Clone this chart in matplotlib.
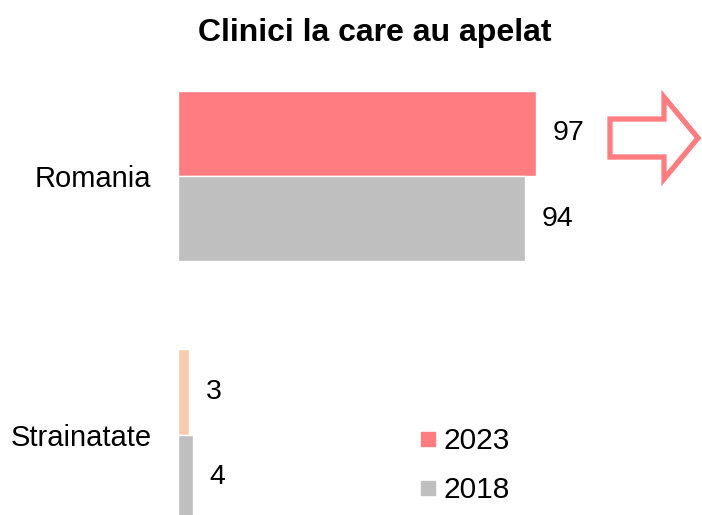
import matplotlib
matplotlib.use('Agg')
import matplotlib.pyplot as plt
import numpy as np
from matplotlib.lines import Line2D
from matplotlib.patches import Polygon

plt.rcParams['font.family'] = ['Liberation Sans', 'DejaVu Sans']

# Datos
categorias = ['Strainatate', 'Romania']
valores_2023 = [3, 97]
valores_2018 = [4, 94]
colores_2023 = ['#F8CBAD', '#FF7C80']
color_2018 = '#BFBFBF'
anios = ['2023', '2018']

fig = plt.figure(figsize=(7.02, 5.15), dpi=100)
ax = fig.add_axes([178 / 702, 0, 369 / 702, 455 / 515])

y = np.arange(len(categorias))
h = 0.33

b1 = ax.barh(y + h / 2, valores_2023, height=h, color=colores_2023,
             edgecolor='white', linewidth=1)
b2 = ax.barh(y - h / 2, valores_2018, height=h, color=color_2018,
             edgecolor='white', linewidth=1)

ax.bar_label(b1, padding=12, fontsize=20.5)
ax.bar_label(b2, padding=12, fontsize=20.5)

ax.set_xlim(0, 100)
ax.set_ylim(-0.311, 1.449)
ax.set_yticks(y)
ax.set_yticklabels(categorias, fontsize=21)
ax.tick_params(axis='y', length=0, pad=19)
ax.set_xticks([])
for s in ax.spines.values():
    s.set_visible(False)

# Leyenda
handles = [Line2D([], [], linestyle='none', marker='s', markersize=10,
                  color='#FF7C80'),
           Line2D([], [], linestyle='none', marker='s', markersize=10,
                  color=color_2018)]
fig.legend(handles, anios, loc='upper left', bbox_to_anchor=(421 / 702, 1 - 427 / 515),
           frameon=False, fontsize=21.5, handletextpad=0.25, labelspacing=0.72,
           borderpad=0, borderaxespad=0, handlelength=0.5)

# Titulo
fig.text(375 / 702, 1 - 33 / 515, 'Clinici la care au apelat',
         ha='center', va='center', fontsize=23, fontweight='bold')

# Flecha decorativa
pts = [(610, 119), (664, 119), (664, 97), (698, 138), (664, 179), (664, 157), (610, 157)]
flecha = Polygon([(px / 702, 1 - py / 515) for px, py in pts], closed=True,
                 fill=False, edgecolor='#FF7C80', linewidth=3.8, joinstyle='miter',
                 transform=fig.transFigure)
fig.patches.append(flecha)

fig.savefig('out.png', dpi=100)
